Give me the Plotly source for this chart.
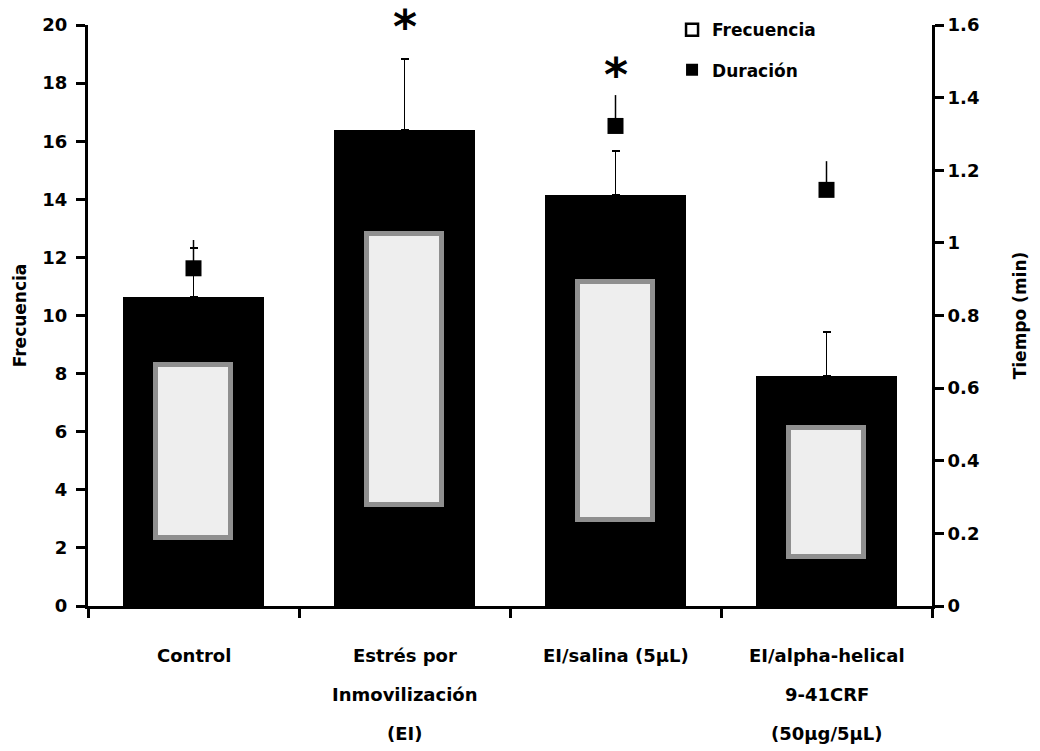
import plotly.graph_objects as go

# ---------------- data ----------------
categories = ["Control", "Estrés por Inmovilización (EI)", "EI/salina (5μL)",
              "EI/alpha-helical 9-41CRF (50μg/5μL)"]
tick_lines = [["Control"],
              ["Estrés por", "Inmovilización", "(EI)"],
              ["EI/salina (5μL)"],
              ["EI/alpha-helical", "9-41CRF", "(50μg/5μL)"]]
frecuencia = [10.64, 16.39, 14.15, 7.92]
frecuencia_err = [1.68, 2.44, 1.51, 1.51]
duracion = [0.93, None, 1.322, 1.146]          # Tiempo (min)
duracion_err = [0.078, None, 0.085, 0.079]
# light (scanned pattern) region inside each bar
pattern_low = [2.34, 3.48, 2.96, 1.69]
pattern_high = [8.30, 12.80, 11.15, 6.13]
asterisk_y = [None, 20.07, 18.42, None]
left_ticks = [0, 2, 4, 6, 8, 10, 12, 14, 16, 18, 20]
right_ticks = [0, 0.2, 0.4, 0.6, 0.8, 1.0, 1.2, 1.4, 1.6]
Y_MAX = 20
Y2_MAX = 1.6

FONT = "DejaVu Sans"

fig = go.Figure()

fig.add_trace(go.Bar(
    x=categories, y=frecuencia, width=0.67,
    marker=dict(color="black", line=dict(width=0)),
    error_y=dict(type="data", symmetric=False, array=frecuencia_err,
                 arrayminus=[0] * len(frecuencia_err),
                 color="black", thickness=1.5, width=4),
    showlegend=False, name="Frecuencia", hoverinfo="skip"))

fig.add_trace(go.Bar(
    x=categories, base=pattern_low,
    y=[h - l for h, l in zip(pattern_high, pattern_low)], width=0.36,
    marker=dict(color="#eeeeee", line=dict(color="#8f8f8f", width=5)),
    showlegend=False, hoverinfo="skip"))

fig.add_trace(go.Scatter(
    x=categories, y=duracion, yaxis="y2", mode="markers",
    marker=dict(symbol="square", size=16, color="black"),
    error_y=dict(type="data", symmetric=False,
                 array=[e if e is not None else 0 for e in duracion_err],
                 arrayminus=[0] * len(duracion_err),
                 color="black", thickness=1.5, width=0),
    showlegend=False, name="Duración"))

# legend entries
fig.add_trace(go.Scatter(
    x=[None], y=[None], mode="markers", name="Frecuencia", legendgroup="a",
    marker=dict(symbol="square", size=12, color="white",
                line=dict(color="black", width=2.5))))
fig.add_trace(go.Scatter(
    x=[None], y=[None], mode="markers", name="Duración", legendgroup="b",
    marker=dict(symbol="square", size=12, color="black")))

annotations = []
for cat, lines in zip(categories, tick_lines):
    for i, line in enumerate(lines):
        annotations.append(dict(
            x=cat, xref="x", y=0, yref="paper", yshift=-49 - 39 * i,
            text=line, showarrow=False, yanchor="middle",
            font=dict(family=FONT, size=18, color="black", weight="bold")))
for cat, ay in zip(categories, asterisk_y):
    if ay is not None:
        annotations.append(dict(
            x=cat, xref="x", y=ay / Y_MAX, yref="paper", yshift=-4, text="*",
            showarrow=False, yanchor="middle",
            font=dict(family=FONT, size=46, color="black", weight="bold")))

fig.update_layout(
    width=1040, height=751,
    margin=dict(l=88, r=108, t=25, b=145),
    paper_bgcolor="white", plot_bgcolor="white",
    barmode="overlay", bargap=0,
    font=dict(family=FONT, size=17, color="black"),
    xaxis=dict(type="category", range=[-0.5, 3.5], showticklabels=False,
               tickson="boundaries", ticks="outside", ticklen=9, tickwidth=3,
               tickcolor="black", showline=True, linewidth=3,
               linecolor="black", showgrid=False, zeroline=False),
    yaxis=dict(range=[0, Y_MAX], tickvals=left_ticks, ticks="outside",
               ticklen=9, tickwidth=3, tickcolor="black", showline=True,
               linewidth=3, linecolor="black", showgrid=False,
               zeroline=False, ticklabelstandoff=5,
               tickfont=dict(size=18, weight="bold"),
               title=dict(text="Frecuencia", standoff=12,
                          font=dict(size=17, weight="bold"))),
    yaxis2=dict(range=[0, Y2_MAX], tickvals=right_ticks,
                ticktext=[f"{v:g}" for v in right_ticks],
                overlaying="y", side="right", ticks="outside",
                ticklen=9, tickwidth=3, tickcolor="black", showline=True,
                linewidth=3, linecolor="black", showgrid=False,
                zeroline=False, tickfont=dict(size=18, weight="bold"),
                title=dict(text="Tiempo (min)", standoff=36,
                           font=dict(size=17, weight="bold"))),
    legend=dict(x=0.692, y=1.022, xanchor="left", yanchor="top",
                bgcolor="rgba(0,0,0,0)", tracegroupgap=15,
                font=dict(family=FONT, size=17, weight="bold"),
                itemwidth=30),
    annotations=annotations,
)

fig.write_html("out.html")
